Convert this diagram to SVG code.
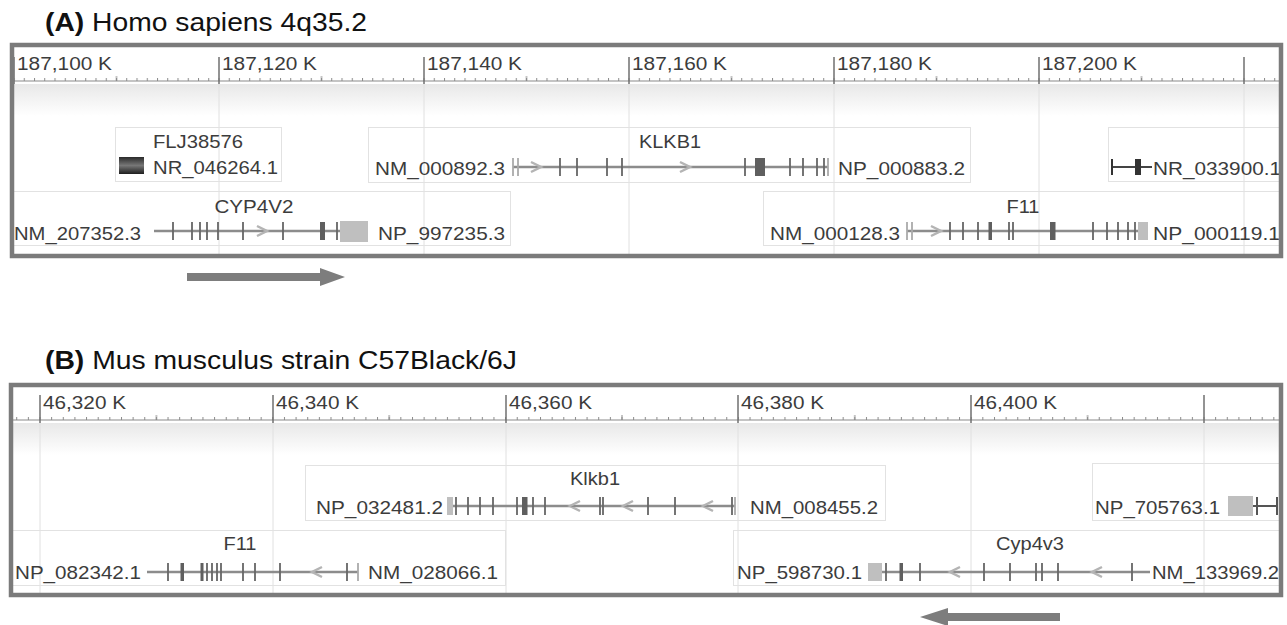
<svg xmlns="http://www.w3.org/2000/svg" width="1287" height="625" viewBox="0 0 1287 625">
<defs>
<style>
.t{font-family:"Liberation Sans",Arial,sans-serif;font-size:18.5px;fill:#3c3c3c}
.r{font-family:"Liberation Sans",Arial,sans-serif;font-size:18px;fill:#3c3c3c}
.title{font-family:"Liberation Sans",Arial,sans-serif;font-size:25px;fill:#111}
.frame{fill:none;stroke:#7b7b7b;stroke-width:4.5}
.box{fill:none;stroke:#e2e2e2;stroke-width:1}
.grid{stroke:#e0e0e0;stroke-width:1}
.axis{stroke:#8a8a8a;stroke-width:1.2}
.major{stroke:#707070;stroke-width:1.5}
.gl{stroke:#8c8c8c;stroke-width:2.5;fill:none}
.tk{stroke:#666;stroke-width:1.8;fill:none}
.tkl{stroke:#aaa;stroke-width:1.8;fill:none}
.ex{fill:#5f5f5f}
.utr{fill:#bfbfbf}
.chev{fill:none;stroke:#b4b4b4;stroke-width:2.5}
.big{fill:#7d7d7d}
</style>
<linearGradient id="band" x1="0" y1="0" x2="0" y2="1"><stop offset="0" stop-color="#e8e8e8"/><stop offset="1" stop-color="#ffffff"/></linearGradient>
<linearGradient id="dark" x1="0" y1="0" x2="0" y2="1"><stop offset="0" stop-color="#2a2a2a"/><stop offset="0.5" stop-color="#777"/><stop offset="1" stop-color="#1e1e1e"/></linearGradient>
<pattern id="minA" patternUnits="userSpaceOnUse" x="13.5" y="0" width="10.25" height="100"><line x1="0.5" y1="0" x2="0.5" y2="100" stroke="#8a8a8a" stroke-width="1"/></pattern>
<pattern id="midA" patternUnits="userSpaceOnUse" x="13.5" y="0" width="205" height="100"><line x1="103" y1="0" x2="103" y2="100" stroke="#8a8a8a" stroke-width="1"/></pattern>
<pattern id="minB" patternUnits="userSpaceOnUse" x="39.5" y="0" width="11.64" height="100"><line x1="0.5" y1="0" x2="0.5" y2="100" stroke="#8a8a8a" stroke-width="1"/></pattern>
<pattern id="midB" patternUnits="userSpaceOnUse" x="39.5" y="0" width="232.8" height="100"><line x1="116.9" y1="0" x2="116.9" y2="100" stroke="#8a8a8a" stroke-width="1"/></pattern>
<clipPath id="clipA"><rect x="14" y="47" width="1265" height="207"/></clipPath>
<clipPath id="clipB"><rect x="13" y="387" width="1266" height="206"/></clipPath>
</defs>
<rect width="1287" height="625" fill="#fff"/>

<!-- Panel A -->
<text class="title" x="45" y="31" textLength="322" lengthAdjust="spacingAndGlyphs"><tspan font-weight="bold">(A)</tspan> Homo sapiens 4q35.2</text>
<g id="panelA" clip-path="url(#clipA)">
  <g id="rulerA">
    <rect x="14" y="84" width="1266" height="32" fill="url(#band)"/>
    <line class="axis" x1="14" y1="81" x2="1280" y2="81"/>
    <rect x="14" y="78" width="1266" height="3" fill="url(#minA)"/>
    <rect x="14" y="76" width="1266" height="5" fill="url(#midA)"/>
    <path class="major" d="M14,57V84M219,57V84M424,57V84M629,57V84M834,57V84M1039,57V84M1244,57V84"/>
    <text class="r" x="17" y="70" textLength="95" lengthAdjust="spacingAndGlyphs">187,100 K</text>
    <text class="r" x="222" y="70" textLength="95" lengthAdjust="spacingAndGlyphs">187,120 K</text>
    <text class="r" x="427" y="70" textLength="95" lengthAdjust="spacingAndGlyphs">187,140 K</text>
    <text class="r" x="632" y="70" textLength="95" lengthAdjust="spacingAndGlyphs">187,160 K</text>
    <text class="r" x="837" y="70" textLength="95" lengthAdjust="spacingAndGlyphs">187,180 K</text>
    <text class="r" x="1042" y="70" textLength="95" lengthAdjust="spacingAndGlyphs">187,200 K</text>
    <path class="grid" d="M219,84V254M424,84V254M629,84V254M834,84V254M1039,84V254M1244,84V254"/>
  </g>
  <g id="gene-FLJ38576">
    <rect class="box" x="115.5" y="127.5" width="166" height="54"/>
    <text class="t" x="153" y="148" textLength="90" lengthAdjust="spacingAndGlyphs">FLJ38576</text>
    <rect x="119" y="157" width="25" height="17" fill="url(#dark)"/>
    <text class="t" x="153" y="174" textLength="125" lengthAdjust="spacingAndGlyphs">NR_046264.1</text>
  </g>
  <g id="gene-KLKB1">
    <rect class="box" x="368.5" y="127.5" width="602" height="55"/>
    <text class="t" x="670" y="148" text-anchor="middle" textLength="62" lengthAdjust="spacingAndGlyphs">KLKB1</text>
    <text class="t" x="505" y="175" text-anchor="end" textLength="130" lengthAdjust="spacingAndGlyphs">NM_000892.3</text>
    <path class="gl" d="M513,167H828"/>
    <path class="tkl" d="M513,158V176M518,158V176M828,158V176"/>
    <path class="tk" d="M560,158V176M577,158V176M607,158V176M622,158V176M745,158V176M790,158V176M803,158V176M817,158V176M824,158V176"/>
    <rect class="ex" x="755" y="158" width="10" height="18"/>
    <path class="chev" d="M531,162L541,167L531,172M680,162L690,167L680,172"/>
    <text class="t" x="838" y="175" textLength="127" lengthAdjust="spacingAndGlyphs">NP_000883.2</text>
  </g>
  <g id="gene-NR_033900">
    <rect class="box" x="1108.5" y="127.5" width="190" height="54"/>
    <path d="M1112,167H1152" stroke="#444" stroke-width="2"/>
    <path d="M1112,159V175" stroke="#333" stroke-width="2"/>
    <rect x="1135" y="159" width="6" height="16" fill="#333"/>
    <text class="t" x="1153" y="175" textLength="128" lengthAdjust="spacingAndGlyphs">NR_033900.1</text>
  </g>
  <g id="gene-CYP4V2">
    <rect class="box" x="10.5" y="191.5" width="500" height="54"/>
    <text class="t" x="254" y="213" text-anchor="middle" textLength="79" lengthAdjust="spacingAndGlyphs">CYP4V2</text>
    <text class="t" x="141" y="240" text-anchor="end" textLength="127" lengthAdjust="spacingAndGlyphs">NM_207352.3</text>
    <path class="gl" d="M154,231H340"/>
    <path class="tk" d="M173,222V240M192,222V240M200,222V240M207,222V240M218,222V240M243,222V240M283,222V240M337,222V240"/>
    <rect class="ex" x="320" y="222" width="5" height="18"/>
    <path class="chev" d="M257,226L267,231L257,236"/>
    <rect class="utr" x="340" y="221" width="28" height="21"/>
    <text class="t" x="378" y="240" textLength="127" lengthAdjust="spacingAndGlyphs">NP_997235.3</text>
  </g>
  <g id="gene-F11-human">
    <rect class="box" x="763.5" y="191.5" width="540" height="54"/>
    <text class="t" x="1023" y="213" text-anchor="middle" textLength="33" lengthAdjust="spacingAndGlyphs">F11</text>
    <text class="t" x="900" y="240" text-anchor="end" textLength="130" lengthAdjust="spacingAndGlyphs">NM_000128.3</text>
    <path class="gl" d="M907,231H1138"/>
    <path class="tkl" d="M907,222V240M912,222V240"/>
    <path class="chev" d="M931,226L941,231L931,236"/>
    <path class="tk" d="M950,222V240M963,222V240M978,222V240M1009,222V240M1013,222V240M1093,222V240M1107,222V240M1118,222V240M1128,222V240M1135,222V240"/>
    <rect class="ex" x="988.5" y="222" width="3.5" height="18"/>
    <rect class="ex" x="1050" y="222" width="5.5" height="18"/>
    <rect class="utr" x="1138" y="222" width="10" height="18"/>
    <text class="t" x="1153" y="240" textLength="127" lengthAdjust="spacingAndGlyphs">NP_000119.1</text>
  </g>
</g>
<rect class="frame" x="12" y="45" width="1269" height="211"/>
<g id="arrowA"><polygon class="big" points="187,273 320,273 320,268 345,277 320,286 320,281 187,281"/></g>

<!-- Panel B -->
<text class="title" x="45" y="369" textLength="472" lengthAdjust="spacingAndGlyphs"><tspan font-weight="bold">(B)</tspan> Mus musculus strain C57Black/6J</text>
<g id="panelB" clip-path="url(#clipB)">
  <g id="rulerB">
    <rect x="13" y="423" width="1266" height="32" fill="url(#band)"/>
    <line class="axis" x1="13" y1="420" x2="1280" y2="420"/>
    <rect x="13" y="417" width="1267" height="3" fill="url(#minB)"/>
    <rect x="13" y="415" width="1267" height="5" fill="url(#midB)"/>
    <path class="major" d="M40,395V423M273,395V423M506,395V423M738,395V423M971,395V423M1204,395V423"/>
    <text class="r" x="43" y="409" textLength="83" lengthAdjust="spacingAndGlyphs">46,320 K</text>
    <text class="r" x="276" y="409" textLength="83" lengthAdjust="spacingAndGlyphs">46,340 K</text>
    <text class="r" x="509" y="409" textLength="83" lengthAdjust="spacingAndGlyphs">46,360 K</text>
    <text class="r" x="741" y="409" textLength="83" lengthAdjust="spacingAndGlyphs">46,380 K</text>
    <text class="r" x="974" y="409" textLength="83" lengthAdjust="spacingAndGlyphs">46,400 K</text>
    <path class="grid" d="M40,423V593M273,423V593M506,423V593M738,423V593M971,423V593M1204,423V593"/>
  </g>
  <g id="gene-Klkb1">
    <rect class="box" x="305.5" y="465.5" width="580" height="55"/>
    <text class="t" x="595" y="485" text-anchor="middle" textLength="50" lengthAdjust="spacingAndGlyphs">Klkb1</text>
    <text class="t" x="443" y="514" text-anchor="end" textLength="127" lengthAdjust="spacingAndGlyphs">NP_032481.2</text>
    <rect class="utr" x="447" y="497" width="6" height="18"/>
    <path class="gl" d="M453,506H735"/>
    <path class="tk" d="M456,497V515M468,497V515M480,497V515M493,497V515M517,497V515M533,497V515M545,497V515M600,497V515M603,497V515M648,497V515M675,497V515M732,497V515"/>
    <rect class="ex" x="522" y="497" width="5.5" height="18"/>
    <path class="tkl" d="M735,497V515"/>
    <path class="chev" d="M580,501L570,506L580,511M633,501L623,506L633,511M713,501L703,506L713,511"/>
    <text class="t" x="750" y="514" textLength="128" lengthAdjust="spacingAndGlyphs">NM_008455.2</text>
  </g>
  <g id="gene-NP_705763">
    <rect class="box" x="1092.5" y="463.5" width="200" height="57"/>
    <text class="t" x="1220" y="514" text-anchor="end" textLength="125" lengthAdjust="spacingAndGlyphs">NP_705763.1</text>
    <rect class="utr" x="1228" y="496" width="25" height="20"/>
    <path d="M1253,506H1277M1257,497V515M1277,497V515" stroke="#555" stroke-width="2" fill="none"/>
  </g>
  <g id="gene-F11-mouse">
    <rect class="box" x="10.5" y="530.5" width="495" height="55"/>
    <text class="t" x="240" y="550" text-anchor="middle" textLength="33" lengthAdjust="spacingAndGlyphs">F11</text>
    <text class="t" x="141" y="579" text-anchor="end" textLength="126" lengthAdjust="spacingAndGlyphs">NP_082342.1</text>
    <path class="gl" d="M147,572H358"/>
    <path class="tk" d="M168,563V581M207,563V581M212,563V581M217,563V581M221,563V581M243,563V581M255,563V581M280,563V581M347,563V581"/>
    <rect class="ex" x="180.5" y="563" width="3.5" height="18"/>
    <rect class="ex" x="200.5" y="563" width="3" height="18"/>
    <path class="chev" d="M322,567L312,572L322,577"/>
    <path class="tkl" d="M358,563V581"/>
    <text class="t" x="368" y="579" textLength="130" lengthAdjust="spacingAndGlyphs">NM_028066.1</text>
  </g>
  <g id="gene-Cyp4v3">
    <rect class="box" x="733.5" y="530.5" width="570" height="55"/>
    <text class="t" x="1030" y="550" text-anchor="middle" textLength="68" lengthAdjust="spacingAndGlyphs">Cyp4v3</text>
    <text class="t" x="862" y="579" text-anchor="end" textLength="125" lengthAdjust="spacingAndGlyphs">NP_598730.1</text>
    <rect class="utr" x="868" y="563" width="14" height="18"/>
    <path class="gl" d="M882,572H1150"/>
    <path class="tk" d="M886,563V581M920,563V581M984,563V581M1010,563V581M1036,563V581M1042,563V581M1058,563V581M1132,563V581"/>
    <rect class="ex" x="899.5" y="563" width="3.5" height="18"/>
    <path class="chev" d="M960,567L950,572L960,577M1102,567L1092,572L1102,577"/>
    <text class="t" x="1152" y="579" textLength="127" lengthAdjust="spacingAndGlyphs">NM_133969.2</text>
  </g>
</g>
<rect class="frame" x="11" y="385" width="1270" height="210"/>
<g id="arrowB"><polygon class="big" points="1060,613 948,613 948,608 920,617 948,626 948,621 1060,621"/></g>
</svg>
